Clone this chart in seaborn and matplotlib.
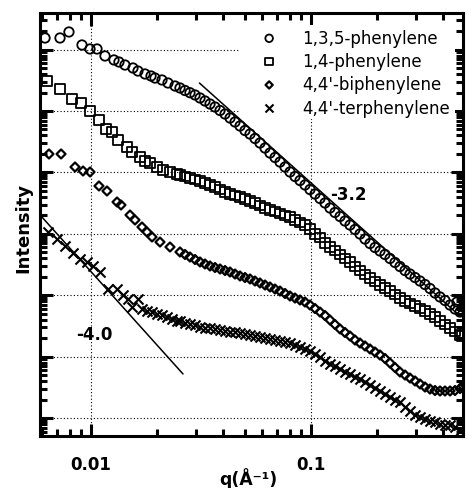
import numpy as np
import pandas as pd
import matplotlib
matplotlib.use("Agg")
import matplotlib.pyplot as plt
import seaborn as sns
from matplotlib.ticker import LogLocator, NullFormatter, FixedLocator, FixedFormatter
from matplotlib.patches import Rectangle

sns.set_theme(style="white")
plt.rcParams['font.family'] = ['DejaVu Sans']
plt.rcParams['text.color'] = 'black'
plt.rcParams['axes.labelcolor'] = 'black'
plt.rcParams['xtick.color'] = 'black'
plt.rcParams['ytick.color'] = 'black'

labels = ["1,3,5-phenylene", "1,4-phenylene", "4,4'-biphenylene", "4,4'-terphenylene"]

# ---- data: q (1/A) and log10(Intensity, arb. units) ----
# low-q points (sample specific)
q_135_lo = [0.00618, 0.00723, 0.00794, 0.00910, 0.00990, 0.01065, 0.01158, 0.01272, 0.01340, 0.01427,
            0.01552, 0.01635, 0.01760, 0.01874, 0.01954, 0.02102, 0.02239, 0.02410]
logI_135_lo = [6.189, 6.189, 6.287, 6.075, 6.010, 6.010, 5.896, 5.831, 5.798, 5.749,
               5.700, 5.651, 5.603, 5.570, 5.537, 5.505, 5.456, 5.407]

q_14_lo = [0.00631, 0.00723, 0.00820, 0.00901, 0.00990, 0.01087, 0.01170, 0.01246, 0.01327, 0.01457,
           0.01535, 0.01670, 0.01760, 0.01854, 0.01995, 0.02125, 0.02286, 0.02460]
logI_14_lo = [5.489, 5.358, 5.195, 5.130, 5.000, 4.853, 4.707, 4.658, 4.528, 4.414,
              4.332, 4.251, 4.186, 4.153, 4.088, 4.039, 4.007, 3.974]

q_bi_lo = [0.00644, 0.00731, 0.00846, 0.00920, 0.00990, 0.01087, 0.01182, 0.01313, 0.01369, 0.01504,
           0.01585, 0.01705, 0.01797, 0.01894, 0.02059, 0.02286]
logI_bi_lo = [4.300, 4.300, 4.088, 4.023, 4.007, 3.779, 3.697, 3.518, 3.469, 3.306,
              3.225, 3.111, 3.029, 2.948, 2.866, 2.785]

q_ter_lo = [0.00637, 0.00701, 0.00762, 0.00828, 0.00891, 0.00959, 0.01021, 0.01099, 0.01195, 0.01313,
            0.01398, 0.01473, 0.01535, 0.01635, 0.01705, 0.01797, 0.01894, 0.01995, 0.02102, 0.02215,
            0.02334, 0.02460]
logI_ter_lo = [3.029, 2.915, 2.801, 2.687, 2.590, 2.541, 2.476, 2.378, 2.101, 2.101,
               2.003, 1.938, 1.808, 1.938, 1.775, 1.743, 1.726, 1.694, 1.678, 1.645,
               1.612, 1.580]

# shared q grid of the dense (higher-q) part of the measurement
q_hi = [0.02538, 0.02675, 0.02818, 0.02971, 0.03130, 0.03298, 0.03475, 0.03662, 0.03859, 0.04066,
        0.04285, 0.04515, 0.04758, 0.05012, 0.05282, 0.05565, 0.05864, 0.06180, 0.06511, 0.06862,
        0.07230, 0.07619, 0.08028, 0.08459, 0.08913, 0.09392, 0.09896, 0.1043, 0.1099, 0.1158,
        0.1220, 0.1285, 0.1355, 0.1427, 0.1504, 0.1585, 0.1670, 0.1760, 0.1854, 0.1954,
        0.2059, 0.2169, 0.2286, 0.2409, 0.2538, 0.2675, 0.2818, 0.2971, 0.3130, 0.3298,
        0.3475, 0.3662, 0.3859, 0.4066, 0.4285, 0.4515, 0.4758]

logI_135_hi = [5.375, 5.334, 5.298, 5.261, 5.212, 5.163, 5.114, 5.065, 5.008, 4.951,
               4.886, 4.821, 4.756, 4.682, 4.625, 4.552, 4.479, 4.397, 4.316, 4.243,
               4.169, 4.088, 4.007, 3.933, 3.868, 3.795, 3.721, 3.648, 3.575, 3.502,
               3.420, 3.347, 3.282, 3.208, 3.143, 3.070, 2.997, 2.915, 2.842, 2.777,
               2.720, 2.663, 2.598, 2.533, 2.467, 2.402, 2.345, 2.288, 2.231, 2.174,
               2.109, 2.036, 1.971, 1.914, 1.840, 1.775, 1.726]
logI_14_hi = [3.958, 3.933, 3.909, 3.884, 3.860, 3.827, 3.795, 3.762, 3.721, 3.681,
              3.648, 3.624, 3.599, 3.567, 3.534, 3.502, 3.461, 3.420, 3.388, 3.363,
              3.331, 3.298, 3.274, 3.225, 3.184, 3.143, 3.078, 2.997, 2.940, 2.850,
              2.785, 2.728, 2.663, 2.598, 2.541, 2.467, 2.402, 2.337, 2.280, 2.223,
              2.166, 2.117, 2.068, 2.011, 1.954, 1.906, 1.865, 1.824, 1.783, 1.743,
              1.694, 1.645, 1.580, 1.523, 1.466, 1.409, 1.352]
logI_bi_hi = [2.704, 2.663, 2.622, 2.581, 2.541, 2.508, 2.476, 2.451, 2.427, 2.402,
              2.378, 2.345, 2.313, 2.288, 2.264, 2.231, 2.199, 2.166, 2.134, 2.101,
              2.068, 2.028, 1.987, 1.954, 1.922, 1.889, 1.840, 1.783, 1.726, 1.669,
              1.596, 1.523, 1.450, 1.393, 1.336, 1.270, 1.221, 1.173, 1.124, 1.075,
              1.026, 0.969, 0.896, 0.822, 0.749, 0.700, 0.651, 0.603, 0.554, 0.505,
              0.472, 0.448, 0.440, 0.440, 0.440, 0.448, 0.480]
logI_ter_hi = [1.572, 1.555, 1.531, 1.507, 1.482, 1.474, 1.466, 1.450, 1.433, 1.417,
               1.401, 1.393, 1.384, 1.368, 1.352, 1.336, 1.319, 1.303, 1.287, 1.270,
               1.254, 1.238, 1.222, 1.189, 1.156, 1.124, 1.091, 1.042, 0.993, 0.936,
               0.879, 0.839, 0.798, 0.757, 0.717, 0.676, 0.635, 0.586, 0.537, 0.489,
               0.440, 0.391, 0.342, 0.301, 0.261, 0.187, 0.122, 0.057, 0.016, -0.016,
               -0.049, -0.073, -0.090, -0.106, -0.114, -0.147, -0.212]

# last (noisy) points at the high-q end
q_135_end = [0.4609, 0.4909]
logI_135_end = [1.889, 1.808]
q_14_end = [0.4859]
logI_14_end = [1.336]
q_bi_end = [0.4909]
logI_bi_end = [0.521]
q_ter_end = []
logI_ter_end = []

# power-law guide lines (end points)
fit32_q = [0.0311, 0.475]
fit32_logI = [5.456, 1.661]
fit40_q = [0.00598, 0.0262]
fit40_logI = [3.274, 0.717]
slope_labels = ["-3.2", "-4.0"]

# ---- figure ----
fig = plt.figure(figsize=(4.73, 4.89), dpi=100)
ax = fig.add_axes([40 / 473, 1 - 437 / 489, 423 / 473, 423 / 489])
ax.set(xscale="log", yscale="log")
ax.set_axisbelow(True)

series = [
    (q_135_lo + q_hi + q_135_end, logI_135_lo + logI_135_hi + logI_135_end, "o", 46, 1.3),
    (q_14_lo + q_hi + q_14_end, logI_14_lo + logI_14_hi + logI_14_end, "s", 46, 1.3),
    (q_bi_lo + q_hi + q_bi_end, logI_bi_lo + logI_bi_hi + logI_bi_end, "D", 21, 1.6),
    (q_ter_lo + q_hi + q_ter_end, logI_ter_lo + logI_ter_hi + logI_ter_end, "x", 52, 1.5),
]
for (qq, ll, mk, sz, lw), lab in zip(series, labels):
    df = pd.DataFrame({"q": qq, "I": 10 ** np.asarray(ll)})
    if mk == "x":
        sns.scatterplot(data=df, x="q", y="I", marker=mk, s=sz, color="black",
                        linewidth=lw, ax=ax, zorder=3)
    else:
        sns.scatterplot(data=df, x="q", y="I", marker=mk, s=sz, color="black",
                        facecolor="none", edgecolor="black", linewidth=lw, ax=ax, zorder=3)

for fq, fl in [(fit32_q, fit32_logI), (fit40_q, fit40_logI)]:
    dfl = pd.DataFrame({"q": fq, "I": 10 ** np.asarray(fl)})
    sns.lineplot(data=dfl, x="q", y="I", color="black", linewidth=1.1, ax=ax,
                 estimator=None, sort=False, zorder=4)

ax.set_xlim(0.005864, 0.4909)
ax.set_ylim(10 ** -0.293, 10 ** 6.596)

# ticks
ax.xaxis.set_major_locator(FixedLocator([0.01, 0.1]))
ax.xaxis.set_major_formatter(FixedFormatter(["0.01", "0.1"]))
ax.xaxis.set_minor_locator(LogLocator(base=10, subs=np.arange(2, 10), numticks=20))
ax.xaxis.set_minor_formatter(NullFormatter())
ax.yaxis.set_major_locator(LogLocator(base=10, numticks=20))
ax.yaxis.set_minor_locator(LogLocator(base=10, subs=np.arange(2, 10), numticks=20))
ax.yaxis.set_major_formatter(NullFormatter())
ax.yaxis.set_minor_formatter(NullFormatter())
ax.tick_params(which="both", direction="in", top=True, right=True, width=2.2,
               color="black", bottom=True, left=True)
ax.tick_params(which="major", length=9)
ax.tick_params(which="minor", length=5)
ax.tick_params(axis="x", which="major", pad=14, labelsize=12, labelcolor="black")
for t in ax.get_xticklabels():
    t.set_fontweight("bold")

ax.grid(True, which="major", color="black", linestyle=(0, (1, 2)), linewidth=0.8)
for sp in ax.spines.values():
    sp.set_linewidth(2.2)
    sp.set_color("black")
    sp.set_visible(True)

# mask behind legend
ax.add_patch(Rectangle((0.473, 0.749), 0.508, 0.223, transform=ax.transAxes,
                       facecolor="white", edgecolor="none", zorder=0.8))

leg = ax.legend(ax.collections[:4], labels, loc="upper left", bbox_to_anchor=(0.522, 0.963),
                frameon=False, borderpad=0, borderaxespad=0, handlelength=1.0,
                handletextpad=1.5, labelspacing=0.32, fontsize=12, markerscale=0.8)
for t in leg.get_texts():
    t.set_bbox(dict(facecolor="white", edgecolor="none", pad=1.5))
    t.set_color("black")

ax.text(0.686, 0.572, slope_labels[0], transform=ax.transAxes, fontweight="bold",
        fontsize=12, ha="left", va="center", color="black")
ax.text(0.085, 0.241, slope_labels[1], transform=ax.transAxes, fontweight="bold",
        fontsize=12, ha="left", va="center", color="black")

ax.set_ylabel("Intensity", fontweight="bold", fontsize=13, color="black")
ax.yaxis.set_label_coords(-0.019, 0.494)
ax.set_xlabel("q(Å⁻¹)", fontweight="bold", fontsize=12.5, color="black")
ax.xaxis.set_label_coords(0.492, -0.073)

fig.savefig("out.png", dpi=100)
